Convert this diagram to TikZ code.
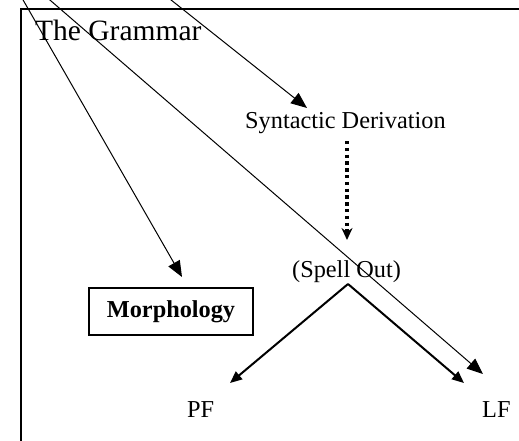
\documentclass[tikz,border=0pt]{standalone}
\usepackage{fontspec}
\setmainfont{Liberation Serif}
\usetikzlibrary{arrows.meta}
\begin{document}
\begin{tikzpicture}[x=1pt,y=-1pt,
 lbl/.style={inner sep=0pt, anchor=base west, font=\fontsize{24.3}{28}\selectfont},
 thinarrow/.style={line width=1pt, -{Triangle[length=16pt,width=13pt]}},
 thickarrow/.style={line width=2pt, -{Triangle[length=12pt,width=10pt]}},
 dotarrow/.style={line width=3.4pt, dash pattern=on 3.4pt off 3.4pt, -{Stealth[length=12pt,width=11pt,inset=4pt]}},
 frameline/.style={line width=1.6pt},
 boxed/.style={draw, line width=1.3pt, inner sep=0pt, minimum width=164pt, minimum height=47pt, font=\fontsize{24.3}{28}\selectfont\bfseries}]
\useasboundingbox (0,0) rectangle (519,440);
\clip (0,0) rectangle (519,440);
\draw[frameline] (21,470) -- (21,9) -- (550,9);
\node[lbl, font=\fontsize{29.5}{32}\selectfont] (title) at (35,40) {The Grammar};
\node[lbl] (syn) at (245,128) {Syntactic Derivation};
\node[lbl] (spell) at (292,277) {(Spell Out)};
\node[lbl] (pf) at (187,417) {PF};
\node[lbl] (lf) at (482,417) {LF};
\node[boxed] (morph) at (171,311.5) {Morphology};
% coordinates
\coordinate (s1) at (-1,-42);
\coordinate (t1) at (182,277);
\coordinate (s2) at (-8,-50);
\coordinate (t2) at (483,374);
\coordinate (s3) at (117,-43);
\coordinate (t3) at (307,108);
\coordinate (apex) at (348,284);
\coordinate (pftip) at (230,383);
\coordinate (lftip) at (464,383);
\coordinate (dtop) at (347,141);
\coordinate (dbot) at (347,240);
\draw[thinarrow] (s1) -- (t1);
\draw[thinarrow] (s2) -- (t2);
\draw[thinarrow] (s3) -- (t3);
\draw[dotarrow] (dtop) -- (dbot);
\draw[thickarrow] (apex) -- (pftip);
\draw[thickarrow] (apex) -- (lftip);
\end{tikzpicture}
\end{document}
